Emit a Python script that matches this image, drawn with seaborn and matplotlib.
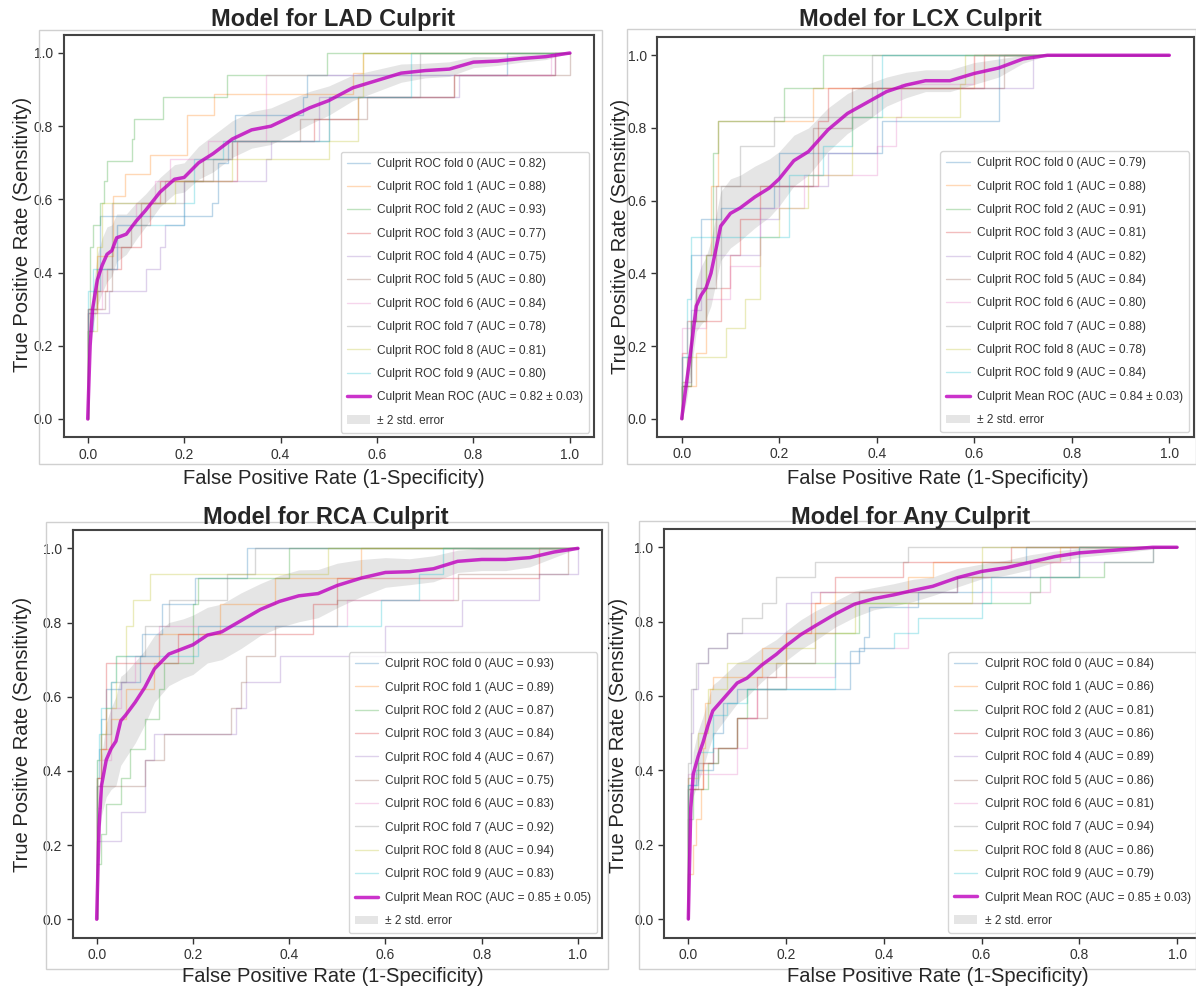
import numpy as np
import seaborn as sns
import matplotlib.pyplot as plt
from matplotlib.patches import Rectangle

# ---- data ----
titles = ['Model for LAD Culprit', 'Model for LCX Culprit',
          'Model for RCA Culprit', 'Model for Any Culprit']

lad_fold_auc = [0.82, 0.88, 0.93, 0.77, 0.75, 0.80, 0.84, 0.78, 0.81, 0.80]
lcx_fold_auc = [0.79, 0.88, 0.91, 0.81, 0.82, 0.84, 0.80, 0.88, 0.78, 0.84]
rca_fold_auc = [0.93, 0.89, 0.87, 0.84, 0.67, 0.75, 0.83, 0.92, 0.94, 0.83]
any_fold_auc = [0.84, 0.86, 0.81, 0.86, 0.89, 0.86, 0.81, 0.94, 0.86, 0.79]
mean_auc = ['0.82 ± 0.03', '0.84 ± 0.03', '0.85 ± 0.05', '0.85 ± 0.03']

# fold curves: step corners (fpr, tpr)
lad_fpr = [
    [0, 0, 0.01, 0.026, 0.257, 0.27, 0.29, 0.306, 0.447, 0.454, 0.87, 1],
    [0, 0, 0.019, 0.053, 0.077, 0.129, 0.205, 0.261, 0.55, 0.57, 1],
    [0, 0, 0.005, 0.012, 0.026, 0.033, 0.041, 0.091, 0.095, 0.157, 0.288, 0.496, 1],
    [0, 0, 0.02, 0.04, 0.07, 0.11, 0.13, 0.15, 0.31, 0.47, 0.56, 0.76, 0.97, 1],
    [0, 0, 0.045, 0.12, 0.15, 0.16, 0.2, 0.37, 0.38, 0.48, 0.77, 0.97, 1],
    [0, 0, 0.035, 0.05, 0.09, 0.11, 0.16, 0.24, 0.3, 0.44, 0.58, 0.76, 1],
    [0, 0, 0.03, 0.06, 0.1, 0.14, 0.17, 0.25, 0.37, 0.96, 1],
    [0, 0, 0.02, 0.05, 0.1, 0.2, 0.26, 0.3, 0.5, 0.69, 1],
    [0, 0, 0.02, 0.03, 0.18, 0.3, 0.5, 0.56, 0.57, 1],
    [0, 0, 0.01, 0.06, 0.2, 0.22, 0.28, 0.5, 0.67, 1],
]
lad_tpr = [
    [0, 0.24, 0.35, 0.555, 0.59, 0.70, 0.76, 0.83, 0.88, 0.94, 1, 1],
    [0, 0.3, 0.445, 0.61, 0.67, 0.72, 0.83, 0.887, 0.946, 1, 1],
    [0, 0.24, 0.47, 0.53, 0.59, 0.65, 0.705, 0.765, 0.82, 0.88, 0.94, 1, 1],
    [0, 0.29, 0.35, 0.41, 0.47, 0.53, 0.59, 0.65, 0.76, 0.82, 0.88, 0.94, 1, 1],
    [0, 0.29, 0.35, 0.41, 0.47, 0.53, 0.65, 0.71, 0.76, 0.88, 0.94, 1, 1],
    [0, 0.3, 0.35, 0.47, 0.53, 0.59, 0.65, 0.71, 0.76, 0.82, 0.88, 0.94, 1],
    [0, 0.3, 0.41, 0.53, 0.59, 0.65, 0.71, 0.76, 0.94, 1, 1],
    [0, 0.3, 0.41, 0.59, 0.59, 0.65, 0.71, 0.76, 0.88, 1, 1],
    [0, 0.24, 0.47, 0.59, 0.65, 0.71, 0.76, 0.88, 1, 1],
    [0, 0.35, 0.41, 0.53, 0.59, 0.71, 0.76, 0.88, 1, 1],
]
lcx_fpr = [
    [0, 0, 0.01, 0.02, 0.04, 0.08, 0.19, 0.2, 0.41, 0.65, 1],
    [0, 0, 0.03, 0.05, 0.06, 0.075, 0.27, 0.6, 1],
    [0, 0, 0.02, 0.05, 0.065, 0.075, 0.21, 0.29, 1],
    [0, 0, 0.01, 0.08, 0.1, 0.12, 0.16, 0.28, 0.3, 0.62, 1],
    [0, 0, 0.02, 0.04, 0.16, 0.2, 0.3, 0.4, 0.72, 1],
    [0, 0, 0.02, 0.03, 0.07, 0.27, 0.35, 0.66, 1],
    [0, 0, 0.05, 0.1, 0.16, 0.25, 0.4, 0.44, 0.45, 0.6, 1],
    [0, 0, 0.02, 0.03, 0.08, 0.12, 0.19, 0.39, 1],
    [0, 0, 0.01, 0.09, 0.13, 0.16, 0.2, 0.26, 0.35, 0.57, 0.58, 1],
    [0, 0, 0.01, 0.02, 0.22, 0.29, 0.35, 0.41, 1],
]
lcx_tpr = [
    [0, 0.09, 0.17, 0.45, 0.55, 0.58, 0.64, 0.73, 0.82, 1, 1],
    [0, 0.09, 0.18, 0.45, 0.64, 0.82, 0.91, 1, 1],
    [0, 0.09, 0.27, 0.45, 0.73, 0.82, 0.91, 1, 1],
    [0, 0.18, 0.27, 0.36, 0.45, 0.55, 0.64, 0.82, 0.91, 1, 1],
    [0, 0.1, 0.3, 0.45, 0.55, 0.64, 0.73, 0.91, 1, 1],
    [0, 0.09, 0.27, 0.36, 0.64, 0.8, 0.91, 1, 1],
    [0, 0.25, 0.33, 0.42, 0.58, 0.67, 0.75, 0.83, 0.92, 1, 1],
    [0, 0.17, 0.27, 0.36, 0.64, 0.75, 0.83, 1, 1],
    [0, 0.1, 0.17, 0.25, 0.33, 0.5, 0.58, 0.67, 0.83, 0.92, 1, 1],
    [0, 0.17, 0.33, 0.5, 0.67, 0.75, 0.83, 1, 1],
]
rca_fpr = [
    [0, 0, 0.005, 0.01, 0.02, 0.05, 0.09, 0.094, 0.135, 0.204, 0.312, 1],
    [0, 0, 0.01, 0.03, 0.06, 0.12, 0.13, 0.256, 0.37, 0.55, 1],
    [0, 0, 0.01, 0.02, 0.05, 0.07, 0.1, 0.13, 0.14, 0.2, 0.21, 0.4, 1],
    [0, 0, 0.01, 0.02, 0.17, 0.45, 0.5, 0.92, 1],
    [0, 0, 0.05, 0.1, 0.12, 0.29, 0.31, 0.38, 0.6, 0.76, 0.92, 1],
    [0, 0, 0.1, 0.14, 0.28, 0.3, 0.31, 0.37, 0.5, 0.75, 0.98, 1],
    [0, 0, 0.01, 0.03, 0.05, 0.08, 0.13, 0.52, 0.74, 1],
    [0, 0, 0.01, 0.03, 0.06, 0.1, 0.15, 0.27, 0.33, 1],
    [0, 0, 0.01, 0.02, 0.04, 0.06, 0.076, 0.11, 0.48, 1],
    [0, 0, 0.005, 0.01, 0.03, 0.04, 0.21, 0.59, 0.67, 0.72, 1],
]
rca_tpr = [
    [0, 0.38, 0.46, 0.54, 0.62, 0.64, 0.71, 0.77, 0.85, 0.92, 1, 1],
    [0, 0.38, 0.46, 0.54, 0.62, 0.69, 0.77, 0.85, 0.92, 1, 1],
    [0, 0.15, 0.23, 0.31, 0.38, 0.46, 0.54, 0.62, 0.69, 0.85, 0.92, 1, 1],
    [0, 0.38, 0.46, 0.69, 0.77, 0.85, 0.92, 1, 1],
    [0, 0.21, 0.29, 0.43, 0.5, 0.57, 0.64, 0.71, 0.79, 0.86, 0.93, 1],
    [0, 0.36, 0.43, 0.5, 0.57, 0.64, 0.71, 0.79, 0.86, 0.93, 1, 1],
    [0, 0.3, 0.43, 0.57, 0.64, 0.71, 0.79, 0.86, 1, 1],
    [0, 0.36, 0.5, 0.64, 0.71, 0.79, 0.86, 0.93, 1, 1],
    [0, 0.43, 0.5, 0.57, 0.71, 0.79, 0.86, 0.93, 1, 1],
    [0, 0.43, 0.5, 0.57, 0.64, 0.71, 0.79, 0.86, 0.93, 1, 1],
]
any_fpr = [
    [0, 0, 0.015, 0.05, 0.07, 0.1, 0.33, 0.36, 0.37, 0.47, 0.6, 0.69, 1],
    [0, 0, 0.01, 0.015, 0.025, 0.03, 0.035, 0.045, 0.05, 0.15, 0.2, 0.26, 0.3, 0.45, 0.5, 0.76, 1],
    [0, 0, 0.01, 0.04, 0.06, 0.1, 0.12, 0.2, 0.3, 0.35, 0.7, 0.72, 0.85, 0.95, 1],
    [0, 0, 0.03, 0.05, 0.1, 0.14, 0.2, 0.25, 0.27, 0.3, 0.44, 0.66, 1],
    [0, 0, 0.005, 0.01, 0.02, 0.04, 0.08, 0.2, 0.25, 0.55, 0.7, 0.95, 1],
    [0, 0, 0.02, 0.06, 0.1, 0.16, 0.18, 0.26, 0.3, 0.35, 0.55, 0.8, 1],
    [0, 0, 0.1, 0.12, 0.14, 0.2, 0.3, 0.35, 0.45, 0.6, 0.74, 0.78, 1],
    [0, 0, 0.005, 0.015, 0.04, 0.08, 0.11, 0.15, 0.18, 0.26, 0.45, 1],
    [0, 0, 0.02, 0.04, 0.08, 0.2, 0.26, 0.34, 0.58, 0.6, 1],
    [0, 0, 0.02, 0.05, 0.08, 0.12, 0.3, 0.35, 0.42, 0.47, 0.6, 0.62, 0.8, 1],
]
any_tpr = [
    [0, 0.36, 0.4, 0.5, 0.58, 0.62, 0.72, 0.76, 0.84, 0.88, 0.96, 1, 1],
    [0, 0.12, 0.2, 0.27, 0.35, 0.46, 0.58, 0.62, 0.65, 0.73, 0.77, 0.85, 0.88, 0.92, 0.96, 1, 1],
    [0, 0.27, 0.35, 0.42, 0.46, 0.54, 0.62, 0.69, 0.77, 0.85, 0.88, 0.92, 0.96, 1, 1],
    [0, 0.35, 0.42, 0.46, 0.54, 0.65, 0.77, 0.85, 0.88, 0.92, 0.96, 1, 1],
    [0, 0.38, 0.5, 0.62, 0.69, 0.73, 0.77, 0.85, 0.88, 0.92, 0.96, 1, 1],
    [0, 0.35, 0.42, 0.46, 0.54, 0.65, 0.69, 0.77, 0.85, 0.88, 0.92, 1, 1],
    [0, 0.39, 0.46, 0.54, 0.62, 0.65, 0.69, 0.73, 0.85, 0.88, 0.96, 1, 1],
    [0, 0.42, 0.62, 0.69, 0.73, 0.77, 0.81, 0.85, 0.92, 0.96, 1, 1],
    [0, 0.38, 0.5, 0.62, 0.69, 0.73, 0.77, 0.85, 0.92, 1, 1],
    [0, 0.36, 0.45, 0.55, 0.58, 0.62, 0.69, 0.73, 0.77, 0.81, 0.85, 0.92, 1, 1],
]

# mean ROC and 2*std-error half width on a common fpr grid
mean_fpr = [0, 0.005, 0.01, 0.02, 0.03, 0.04, 0.05, 0.06, 0.08, 0.1, 0.12, 0.15,
            0.18, 0.2, 0.23, 0.26, 0.3, 0.34, 0.38, 0.42, 0.46, 0.5, 0.55, 0.6,
            0.65, 0.7, 0.75, 0.8, 0.85, 0.9, 0.95, 1.0]
lad_mean = [0, 0.2, 0.30, 0.38, 0.42, 0.45, 0.46, 0.495, 0.505, 0.54, 0.57, 0.62,
            0.655, 0.66, 0.70, 0.725, 0.765, 0.79, 0.80, 0.825, 0.85, 0.87, 0.905, 0.925,
            0.945, 0.952, 0.956, 0.975, 0.978, 0.985, 0.99, 1.0]
lad_err = [0, 0.03, 0.05, 0.07, 0.075, 0.075, 0.07, 0.065, 0.055, 0.05, 0.045, 0.04,
           0.04, 0.04, 0.045, 0.05, 0.05, 0.05, 0.05, 0.048, 0.045, 0.04, 0.035, 0.03,
           0.025, 0.02, 0.02, 0.015, 0.012, 0.01, 0.008, 0]
lcx_mean = [0, 0.05, 0.1, 0.2, 0.31, 0.34, 0.36, 0.40, 0.53, 0.565, 0.58, 0.61,
            0.635, 0.66, 0.71, 0.735, 0.795, 0.84, 0.87, 0.90, 0.918, 0.93, 0.93, 0.95,
            0.965, 0.99, 1, 1, 1, 1, 1, 1]
lcx_err = [0, 0.03, 0.05, 0.06, 0.07, 0.08, 0.085, 0.09, 0.095, 0.095, 0.09, 0.085,
           0.08, 0.075, 0.07, 0.065, 0.06, 0.055, 0.05, 0.04, 0.035, 0.03, 0.03, 0.03,
           0.025, 0.012, 0, 0, 0, 0, 0, 0]
rca_mean = [0, 0.25, 0.36, 0.43, 0.46, 0.48, 0.535, 0.55, 0.585, 0.625, 0.675, 0.715,
            0.73, 0.74, 0.766, 0.775, 0.805, 0.835, 0.857, 0.872, 0.878, 0.90, 0.92, 0.935,
            0.937, 0.945, 0.965, 0.97, 0.97, 0.975, 0.99, 1.0]
rca_err = [0, 0.04, 0.08, 0.1, 0.11, 0.12, 0.12, 0.115, 0.11, 0.1, 0.09, 0.085,
           0.08, 0.08, 0.075, 0.075, 0.075, 0.07, 0.07, 0.07, 0.065, 0.06, 0.05, 0.04,
           0.035, 0.035, 0.03, 0.03, 0.03, 0.025, 0.015, 0]
any_mean = [0, 0.3, 0.39, 0.437, 0.475, 0.52, 0.56, 0.575, 0.605, 0.635, 0.648, 0.683,
            0.712, 0.735, 0.765, 0.789, 0.82, 0.847, 0.862, 0.872, 0.884, 0.895, 0.918, 0.935,
            0.945, 0.96, 0.975, 0.985, 0.99, 0.995, 1.0, 1.0]
any_err = [0, 0.04, 0.06, 0.07, 0.07, 0.07, 0.07, 0.065, 0.06, 0.055, 0.05, 0.045,
           0.04, 0.04, 0.04, 0.04, 0.035, 0.035, 0.03, 0.03, 0.03, 0.025, 0.025, 0.02,
           0.02, 0.02, 0.015, 0.012, 0.01, 0.008, 0.005, 0]

panels = [
    (lad_fpr, lad_tpr, lad_fold_auc, lad_mean, lad_err),
    (lcx_fpr, lcx_tpr, lcx_fold_auc, lcx_mean, lcx_err),
    (rca_fpr, rca_tpr, rca_fold_auc, rca_mean, rca_err),
    (any_fpr, any_tpr, any_fold_auc, any_mean, any_err),
]

# ---- layout, in pixels of the 1196x991 canvas ----
W, H = 1196, 991
axes_px = [(63.6, 34.7, 594.0, 437.3), (657.3, 37.1, 1193.7, 436.9),
           (72.6, 529.8, 602.0, 937.8), (663.9, 528.7, 1201.5, 937.6)]
frames_px = [(39, 30, 602, 464), (627, 29, 1196, 464),
             (46, 522, 608, 969), (639, 521, 1196, 969)]
title_px = [(333, 26), (920, 26), (326, 524), (911, 524)]
xlabel_px = [(334, 479), (938, 479), (333, 977), (938, 977)]
ylabel_px = [(23, 234), (620, 236), (23, 734), (619, 735)]

sns.set_style('ticks')
plt.rcParams['font.family'] = ['Liberation Sans', 'DejaVu Sans']

fig = plt.figure(figsize=(W / 100, H / 100), dpi=100)
colors = sns.color_palette('tab10', 10)

for i, (fprs, tprs, aucs, mtpr, err) in enumerate(panels):
    l, t, r, b = axes_px[i]
    ax = fig.add_axes([l / W, 1 - b / H, (r - l) / W, (b - t) / H])

    for k in range(10):
        sns.lineplot(x=fprs[k], y=tprs[k], ax=ax, estimator=None, sort=False,
                     drawstyle='steps-post', color=colors[k], lw=1, alpha=0.3,
                     label=f'Culprit ROC fold {k} (AUC = {aucs[k]:.2f})')

    mt = np.array(mtpr)
    e = np.array(err)
    sns.lineplot(x=mean_fpr, y=mtpr, ax=ax, estimator=None, sort=False,
                 color='m', lw=2.5, alpha=0.8,
                 label=f'Culprit Mean ROC (AUC = {mean_auc[i]})')
    ax.fill_between(mean_fpr, np.maximum(mt - e, 0), np.minimum(mt + e, 1),
                    color='grey', alpha=0.2, lw=0, label='± 2 std. error')

    ax.set_xlim(-0.05, 1.05)
    ax.set_ylim(-0.05, 1.05)
    ax.set_xticks(np.arange(0, 1.01, 0.2))
    ax.set_yticks(np.arange(0, 1.01, 0.2))
    ax.tick_params(labelsize=10, colors='#333333', length=4, width=1)
    for s in ax.spines.values():
        s.set_color('#444444')
        s.set_linewidth(1.5)
    ax.set_xlabel('')
    ax.set_ylabel('')
    leg = ax.legend(loc='lower right', fontsize=8.6, labelspacing=0.95,
                    handlelength=1.95, handletextpad=0.6, borderpad=0.5,
                    borderaxespad=0.4, framealpha=0.8, edgecolor='#cccccc')
    for txt in leg.get_texts():
        txt.set_color('#333333')

    fx, fy = title_px[i]
    fig.text(fx / W, 1 - fy / H, titles[i], ha='center', va='baseline',
             fontsize=17, fontweight='bold')
    fx, fy = xlabel_px[i]
    fig.text(fx / W, 1 - fy / H, 'False Positive Rate (1-Specificity)',
             ha='center', va='center', fontsize=14.5)
    fx, fy = ylabel_px[i]
    fig.text(fx / W, 1 - fy / H, 'True Positive Rate (Sensitivity)',
             ha='center', va='center', rotation=90, rotation_mode='anchor',
             fontsize=14.5)

    fl, ft, fr, fb = frames_px[i]
    fig.patches.append(Rectangle((fl / W, 1 - fb / H), (fr - fl) / W, (fb - ft) / H,
                                 transform=fig.transFigure, fill=False,
                                 edgecolor='#d0d0d0', lw=1, zorder=0))

fig.savefig('out.png', dpi=100)
